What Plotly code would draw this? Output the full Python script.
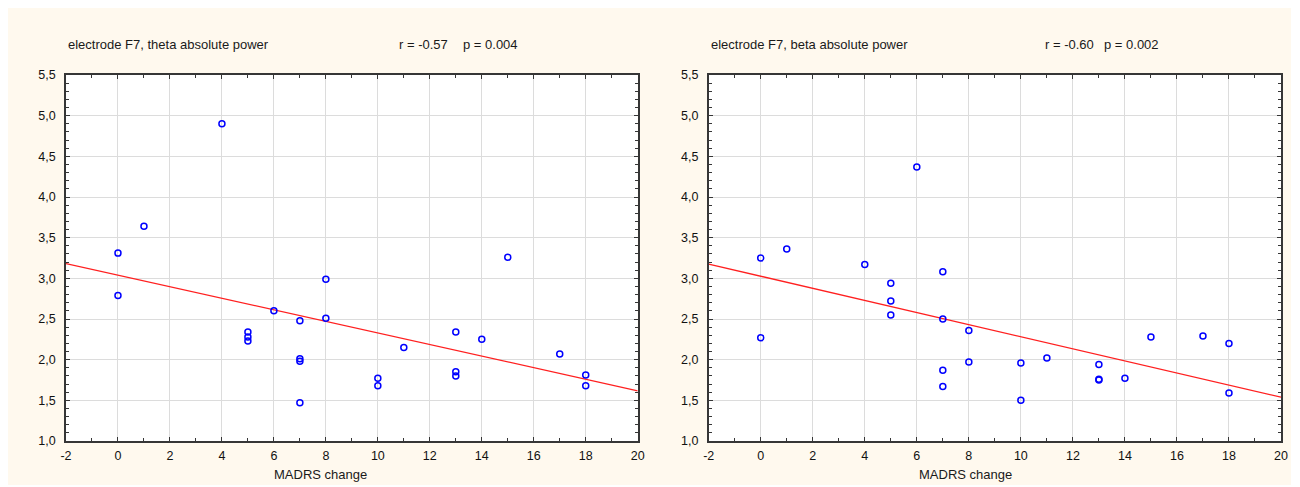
import numpy as np
import plotly.graph_objects as go

# ---------------- data ----------------
madrs_change = [0, 0, 1, 4, 5, 5, 5, 6, 7, 7, 7, 7, 8, 8, 10, 10, 11, 13, 13, 13, 14, 15, 17, 18, 18]
theta_power = [3.31, 2.79, 3.64, 4.90, 2.34, 2.28, 2.23, 2.60, 2.48, 2.01, 1.98, 1.47, 2.99, 2.51,
               1.77, 1.68, 2.15, 2.34, 1.85, 1.80, 2.25, 3.26, 2.07, 1.81, 1.68]
beta_power = [3.25, 2.27, 3.36, 3.17, 2.94, 2.72, 2.55, 4.37, 3.08, 2.50, 1.87, 1.67, 2.36, 1.97,
              1.96, 1.50, 2.02, 1.94, 1.76, 1.75, 1.77, 2.28, 2.29, 2.20, 1.59]

panel_titles = ["electrode F7, theta absolute power", "electrode F7, beta absolute power"]
r_labels = ["r = -0.57", "r = -0.60"]
p_labels = ["p = 0.004", "p = 0.002"]
x_title = "MADRS change"

x_tick_vals = [-2, 0, 2, 4, 6, 8, 10, 12, 14, 16, 18, 20]
x_tick_text = ["-2", "0", "2", "4", "6", "8", "10", "12", "14", "16", "18", "20"]
y_tick_vals = [1.0, 1.5, 2.0, 2.5, 3.0, 3.5, 4.0, 4.5, 5.0, 5.5]
y_tick_text = ["1,0", "1,5", "2,0", "2,5", "3,0", "3,5", "4,0", "4,5", "5,0", "5,5"]

# ---------------- layout geometry ----------------
W, H = 1300, 487
L, R, T, B = 66, 19, 75, 46
PW, PH = W - L - R, H - T - B

def px(xp):
    return (xp - L) / PW

def py(yp):
    return (H - B - yp) / PH

FONT = "Liberation Sans, Arial, sans-serif"
BG = "#FFF9EE"
FRAME = "#363636"
GRID = "#DCDCDC"

fig = go.Figure()

series = [theta_power, beta_power]
x_range = [-2, 20]
for i, yvals in enumerate(series):
    xa = "x" if i == 0 else "x2"
    ya = "y" if i == 0 else "y2"
    slope, intercept = np.polyfit(madrs_change, yvals, 1)
    fit_x = np.array(x_range, dtype=float)
    fit_y = intercept + slope * fit_x
    fig.add_trace(go.Scatter(x=fit_x, y=fit_y, mode="lines",
                             line=dict(color="#FF2020", width=1.3),
                             xaxis=xa, yaxis=ya, showlegend=False, hoverinfo="skip"))
    fig.add_trace(go.Scatter(x=madrs_change, y=yvals, mode="markers",
                             marker=dict(symbol="circle-open", size=6, color="#0000FF",
                                         line=dict(width=1.5, color="#0000FF")),
                             xaxis=xa, yaxis=ya, showlegend=False))

common_x = dict(range=x_range, tickmode="array", tickvals=x_tick_vals, ticktext=x_tick_text,
                showgrid=True, gridcolor=GRID, gridwidth=1, zeroline=False,
                showline=True, linecolor=FRAME, linewidth=1.6, mirror="ticks",
                ticks="inside", ticklen=4, tickcolor=FRAME, tickwidth=1,
                minor=dict(ticks="inside", ticklen=3, dtick=1, tick0=0, tickcolor=FRAME, showgrid=False),
                tickfont=dict(family=FONT, size=12.5, color="#111111"),
                ticklabelstandoff=2)
common_y = dict(range=[1, 5.5], tickmode="array", tickvals=y_tick_vals, ticktext=y_tick_text,
                showgrid=True, gridcolor=GRID, gridwidth=1, zeroline=False,
                showline=True, linecolor=FRAME, linewidth=1.6, mirror="ticks",
                ticks="inside", ticklen=4, tickcolor=FRAME, tickwidth=1,
                minor=dict(ticks="inside", ticklen=3, dtick=0.1, tick0=1, tickcolor=FRAME, showgrid=False),
                tickfont=dict(family=FONT, size=12.5, color="#111111"),
                ticklabelstandoff=6)

left_dom = [0, px(637.7)]
right_dom = [px(708.7), 1]

annotations = []
title_x = [66, 709]
r_x = [397, 1043]
p_x = [461, 1102]
xtitle_centers = [320, 965]
for i in range(2):
    for txt, xp in [(panel_titles[i], title_x[i]), (r_labels[i], r_x[i]), (p_labels[i], p_x[i])]:
        annotations.append(dict(text=txt, x=px(xp), y=py(44), xref="paper", yref="paper",
                                xanchor="left", yanchor="middle", showarrow=False,
                                font=dict(family=FONT, size=13, color="#1a1a1a")))
    annotations.append(dict(text=x_title, x=px(xtitle_centers[i]), y=py(474), xref="paper", yref="paper",
                            xanchor="center", yanchor="middle", showarrow=False,
                            font=dict(family=FONT, size=13, color="#1a1a1a")))

# white outer border around the cream panel
shapes = []
for (x0, y0, x1, y1) in [(0, 0, W, 8), (0, 0, 8, H), (1291, 0, W, H), (0, 485, W, H)]:
    shapes.append(dict(type="rect", xref="paper", yref="paper",
                       x0=px(x0), x1=px(x1), y0=py(y1), y1=py(y0),
                       fillcolor="white", line=dict(width=0), layer="above"))

fig.update_layout(
    width=W, height=H,
    margin=dict(l=L, r=R, t=T, b=B),
    paper_bgcolor=BG, plot_bgcolor="white",
    xaxis=dict(domain=left_dom, anchor="y", **common_x),
    yaxis=dict(domain=[0, 1], anchor="x", **common_y),
    xaxis2=dict(domain=right_dom, anchor="y2", **common_x),
    yaxis2=dict(domain=[0, 1], anchor="x2", **common_y),
    annotations=annotations,
    shapes=shapes,
    showlegend=False,
)

fig.write_html("out.html")
